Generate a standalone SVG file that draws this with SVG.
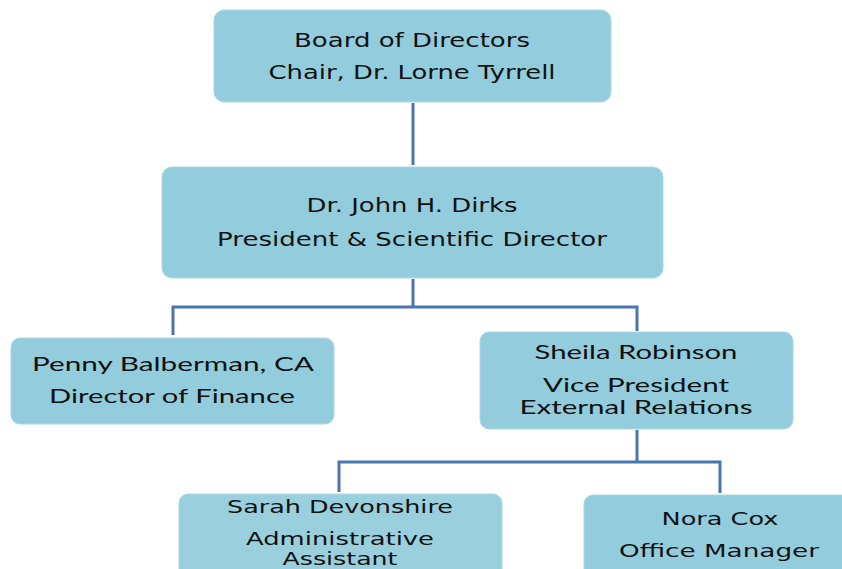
<svg xmlns="http://www.w3.org/2000/svg" width="842" height="569" viewBox="0 0 842 569">
<style>
.box{fill:#93CDDD;stroke:#A9D8E4;stroke-width:1}
.v{font-family:"DejaVu Sans",Verdana,sans-serif;fill:#111;text-anchor:middle}
.c{font-family:Lato,"Open Sans",sans-serif;fill:#111;text-anchor:middle}
.con{fill:none;stroke:#4A76B0;stroke-width:3;stroke-linejoin:miter}
</style>
<rect width="842" height="569" fill="#FFFFFF"/>
<g id="connectors">
<path class="con" d="M413,103 V165"/>
<path class="con" d="M413,279 V307"/>
<path class="con" d="M173,335 V307 H637 V331"/>
<path class="con" d="M637,430 V462"/>
<path class="con" d="M339,492 V462 H720 V493"/>
</g>
<g id="board">
<rect class="box" x="214" y="10" width="397" height="92" rx="10"/>
<text class="v" x="412" y="47" font-size="20" textLength="236" lengthAdjust="spacingAndGlyphs">Board of Directors</text>
<text class="v" x="412" y="79" font-size="20" textLength="287" lengthAdjust="spacingAndGlyphs">Chair, Dr. Lorne Tyrrell</text>
</g>
<g id="president">
<rect class="box" x="162" y="167" width="501" height="111" rx="10"/>
<text class="v" x="412" y="212" font-size="19" textLength="211" lengthAdjust="spacingAndGlyphs">Dr. John H. Dirks</text>
<text class="v" x="412" y="246" font-size="19" textLength="390" lengthAdjust="spacingAndGlyphs">President &amp; Scientific Director</text>
</g>
<g id="finance">
<rect class="box" x="11" y="338" width="323" height="86" rx="9"/>
<text class="c" x="173" y="371" font-size="19" textLength="282" lengthAdjust="spacingAndGlyphs">Penny Balberman, CA</text>
<text class="c" x="172" y="403" font-size="19" textLength="246" lengthAdjust="spacingAndGlyphs">Director of Finance</text>
</g>
<g id="vp">
<rect class="box" x="480" y="332" width="313" height="97" rx="9"/>
<text class="c" x="636" y="359" font-size="19" textLength="203" lengthAdjust="spacingAndGlyphs">Sheila Robinson</text>
<text class="c" x="636" y="392" font-size="19" textLength="186" lengthAdjust="spacingAndGlyphs">Vice President</text>
<text class="c" x="636" y="414" font-size="19" textLength="233" lengthAdjust="spacingAndGlyphs">External Relations</text>
</g>
<g id="assistant">
<rect class="box" x="179" y="494" width="323" height="90" rx="9" style="fill:#9AD0DD"/>
<text class="v" x="340" y="513" font-size="17" textLength="226" lengthAdjust="spacingAndGlyphs">Sarah Devonshire</text>
<text class="v" x="340" y="545" font-size="17.5" textLength="188" lengthAdjust="spacingAndGlyphs">Administrative</text>
<text class="v" x="340" y="565" font-size="17" textLength="115" lengthAdjust="spacingAndGlyphs">Assistant</text>
</g>
<g id="office">
<rect class="box" x="584" y="495" width="270" height="90" rx="9"/>
<text class="v" x="720" y="525" font-size="17" textLength="117" lengthAdjust="spacingAndGlyphs">Nora Cox</text>
<text class="v" x="719" y="557" font-size="17" textLength="200" lengthAdjust="spacingAndGlyphs">Office Manager</text>
</g>
</svg>
